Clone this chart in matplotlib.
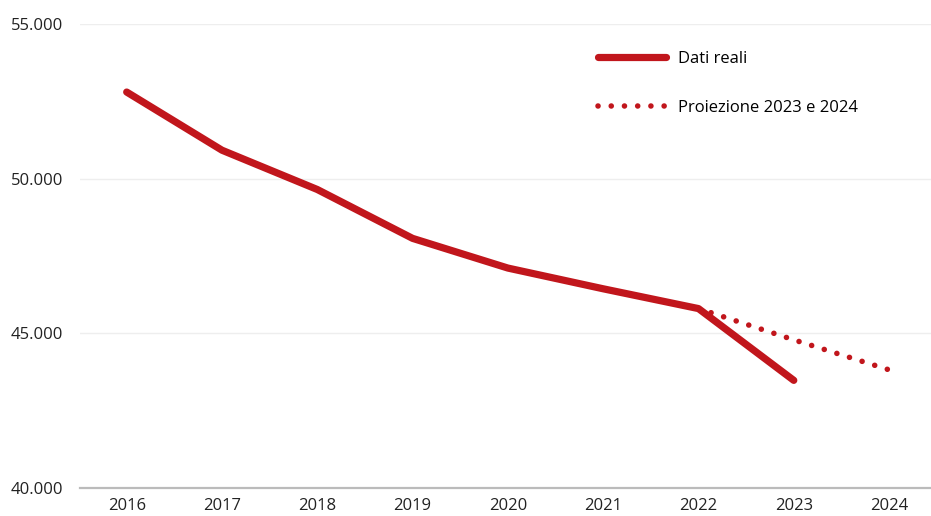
import matplotlib.pyplot as plt
from matplotlib.ticker import FuncFormatter

plt.rcParams['font.family'] = ['Open Sans', 'DejaVu Sans']

years = [2016, 2017, 2018, 2019, 2020, 2021, 2022, 2023]
real_values = [52800, 50920, 49650, 48070, 47110, 46440, 45800, 43480]

proj_years = [2022, 2023, 2024]
proj_values = [45800, 44790, 43820]

tick_years = [2016, 2017, 2018, 2019, 2020, 2021, 2022, 2023, 2024]
y_ticks = [40000, 45000, 50000, 55000]

red = '#C1161C'

fig = plt.figure(figsize=(9.31, 5.16), dpi=100)
ax = fig.add_axes([80 / 931, (516 - 488) / 516, 1 - 80 / 931, (488 - 24) / 516])

ax.plot(proj_years, proj_values, color=red, linewidth=4.0,
        linestyle=(0, (0.01, 2.37)), dash_capstyle='round',
        label='Proiezione 2023 e 2024', zorder=3)
ax.plot(years, real_values, color=red, linewidth=5.2,
        solid_capstyle='round', solid_joinstyle='round',
        label='Dati reali', zorder=4)

ax.set_xlim(2015.51, 2024.44)
ax.set_ylim(40000, 55000)
ax.set_xticks(tick_years)
ax.set_yticks(y_ticks)
ax.yaxis.set_major_formatter(FuncFormatter(lambda v, p: f'{int(v):,}'.replace(',', '.')))

ax.grid(axis='y', color='#EEEEEE', linewidth=1)
ax.set_axisbelow(True)
for s in ['top', 'right', 'left']:
    ax.spines[s].set_visible(False)
ax.spines['bottom'].set_color('#BBBBBB')
ax.spines['bottom'].set_linewidth(1.6)
ax.spines['bottom'].set_zorder(1)

ax.tick_params(axis='both', length=0, labelsize=12, colors='#222222')
ax.tick_params(axis='x', pad=7)
ax.tick_params(axis='y', pad=12)

handles, labels = ax.get_legend_handles_labels()
leg = ax.legend(handles[::-1], labels[::-1], loc='upper left',
                bbox_to_anchor=((598 - 80) / 851, 1 - (51 - 24) / 464),
                frameon=False, fontsize=12, handlelength=4.1,
                handletextpad=0.7, labelspacing=1.95, borderaxespad=0,
                borderpad=0)

fig.savefig('out.png', dpi=100)
